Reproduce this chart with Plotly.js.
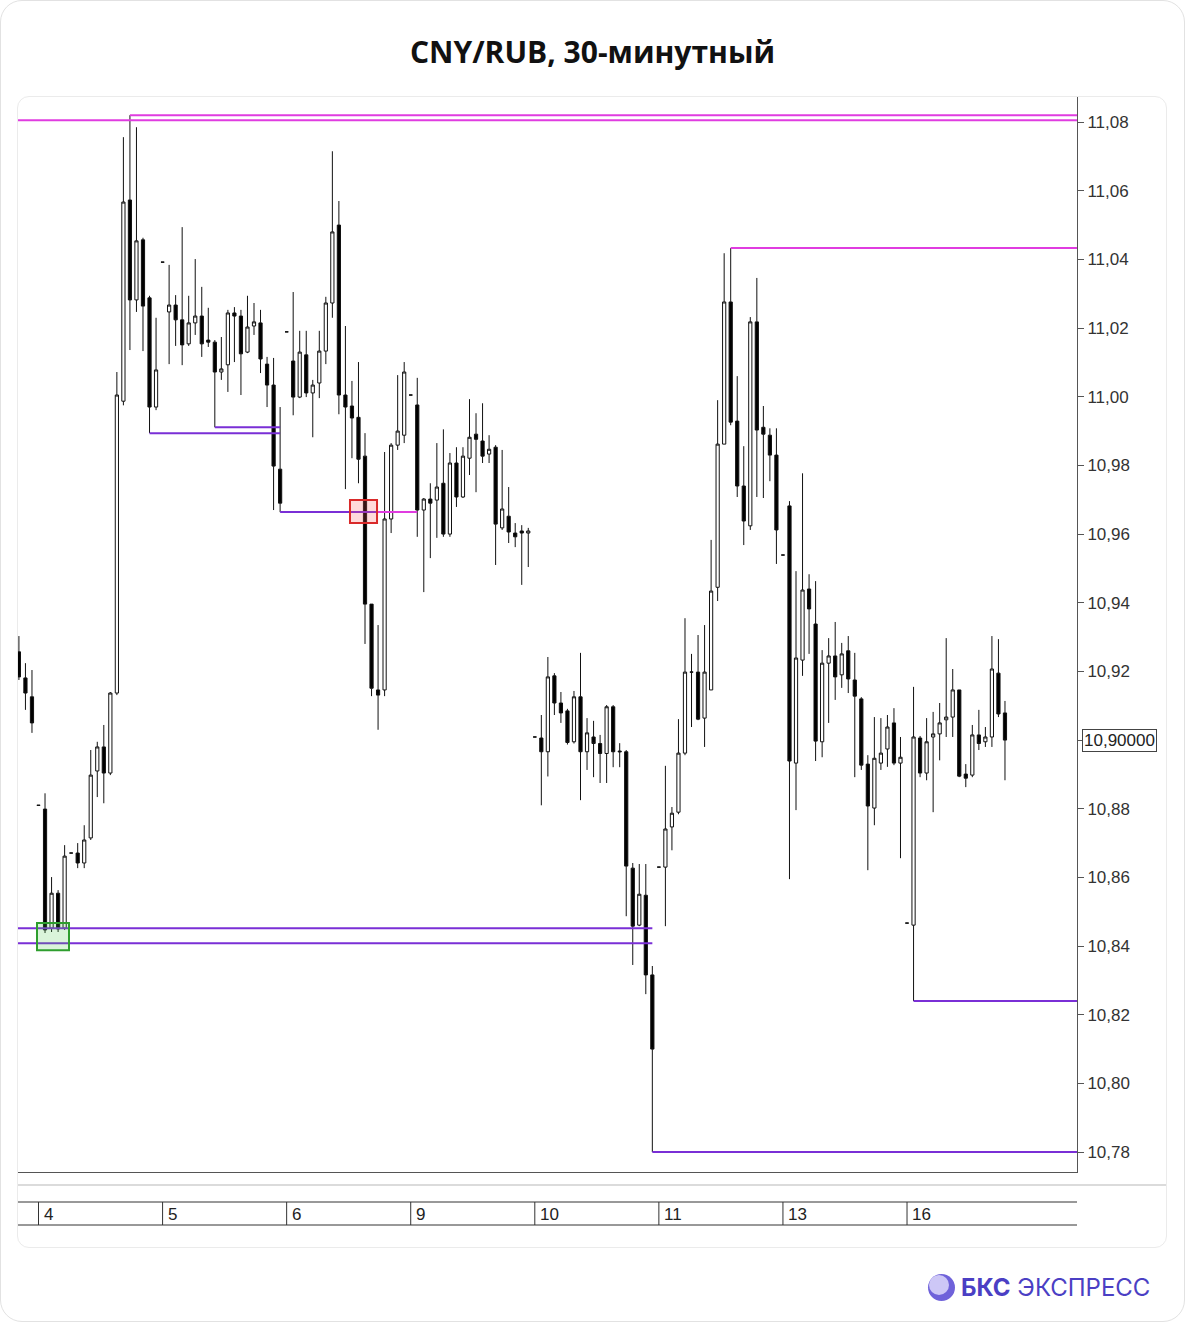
<!DOCTYPE html>
<html><head><meta charset="utf-8">
<script src="https://cdn.plot.ly/plotly-3.0.1.min.js"></script>
<style>
html,body{margin:0;padding:0;background:#fff;}
#frame{position:absolute;left:0;top:0;width:1183px;height:1320px;border:1px solid #e2e2e2;border-radius:22px;}
#card{position:absolute;left:17px;top:96px;width:1148px;height:1150px;border:1px solid #ebebeb;border-radius:12px;}
#chart{position:absolute;left:0;top:0;width:1185px;height:1322px;}
</style></head><body>
<div id="frame"></div><div id="card"></div><div id="chart"></div>
<script>
// ---- data ----
const firstSlot = -3; // slot index of first candle (19 slots per trading day)
const openP = [10.9257,10.9181,10.9126,
10.8810,10.8799,10.8452,10.8554,10.8452,10.8671,10.8671,10.8642,10.8715,10.8910,10.8980,10.8904,10.9137,10.9987,11.0573,11.0282,11.0457,11.0288,10.9970,
11.0392,11.0247,11.0267,11.0224,11.0154,11.0215,11.0235,11.0165,11.0159,11.0072,11.0093,11.0244,11.0235,11.0130,11.0206,11.0215,11.0095,11.0034,10.9789,
11.0189,11.0104,10.9999,11.0122,11.0011,11.0040,11.0133,11.0273,11.0500,11.0005,10.9973,10.9940,10.9827,10.9396,10.9146,10.9146,10.9644,10.9859,10.9888,
11.0005,10.9976,10.9670,10.9702,10.9699,10.9748,10.9600,10.9807,10.9708,10.9821,10.9891,10.9871,10.9833,10.9853,10.9618,10.9652,10.9603,10.9609,10.9603,
10.9009,10.9006,10.8966,10.9187,10.9108,10.9085,10.8995,10.9126,10.8966,10.9009,10.8990,10.8961,10.9097,10.8968,10.8966,10.8627,10.8461,10.8548,10.8316,
10.8630,10.8630,10.8747,10.8790,10.8962,10.9198,10.9198,10.9064,10.9146,10.9445,10.9862,11.0276,10.9929,10.9740,10.9624,11.0218,10.9911,10.9888,10.9830,
10.9539,10.9682,10.8933,10.9233,10.9440,10.9338,10.8995,10.9224,10.9245,10.9190,10.9260,10.9175,10.9120,10.8930,10.8802,10.8933,10.8974,10.9050,10.8933,
10.8467,10.8461,10.9006,10.8904,10.9009,10.9018,10.9059,10.9067,10.9146,10.8901,10.8898,10.9015,10.8995,10.9009,10.9195,10.9079];
const highP = [10.9303,10.9224,10.9204,
10.8810,10.8845,10.8601,10.8563,10.8694,10.8671,10.8700,10.8752,10.8971,10.8995,10.9044,10.9140,11.0072,11.0756,11.0820,11.0785,11.0463,11.0294,11.0230,
11.0392,11.0384,11.0296,11.0494,11.0294,11.0401,11.0320,11.0259,11.0165,11.0174,11.0253,11.0261,11.0253,11.0294,11.0273,11.0253,11.0116,11.0113,10.9970,
11.0189,11.0305,11.0192,11.0192,11.0049,11.0192,11.0291,11.0715,11.0570,11.0206,11.0046,11.0101,10.9894,10.9396,10.9335,10.9839,10.9865,11.0063,11.0101,
11.0005,11.0055,10.9705,10.9748,10.9865,10.9905,10.9836,10.9853,10.9853,10.9993,10.9952,10.9981,10.9888,10.9859,10.9845,10.9737,10.9632,10.9626,10.9618,
10.9009,10.9073,10.9242,10.9195,10.9140,10.9091,10.9143,10.9254,10.9064,10.9056,10.9015,10.9102,10.9102,10.8991,10.8971,10.8642,10.8639,10.8639,10.8342,
10.8630,10.8925,10.8805,10.9061,10.9355,10.9251,10.9306,10.9335,10.9583,10.9990,11.0418,11.0433,11.0060,10.9856,11.0232,11.0346,10.9973,10.9908,10.9908,
10.9539,10.9696,10.9492,10.9777,10.9483,10.9463,10.9262,10.9297,10.9344,10.9283,10.9303,10.9254,10.9125,10.8956,10.9067,10.9064,10.9073,10.9093,10.9009,
10.8467,10.9155,10.9012,10.9064,10.9082,10.9108,10.9297,10.9207,10.9146,10.8930,10.9044,10.9088,10.9038,10.9303,10.9294,10.9114];
const lowP = [10.9175,10.9088,10.9021,
10.8810,10.8438,10.8441,10.8441,10.8447,10.8671,10.8627,10.8627,10.8709,10.8834,10.8816,10.8898,10.9131,10.9975,11.0136,11.0247,11.0133,10.9894,10.9961,
11.0392,11.0095,11.0148,11.0092,11.0148,11.0180,11.0116,11.0145,10.9911,11.0049,11.0014,11.0101,11.0005,11.0127,11.0180,11.0069,10.9970,10.9670,10.9664,
11.0189,10.9946,10.9996,10.9999,10.9882,10.9996,11.0095,11.0230,10.9949,10.9731,10.9821,10.9748,10.9280,10.9128,10.9030,10.9128,10.9603,10.9845,10.9865,
11.0005,10.9592,10.9431,10.9530,10.9589,10.9592,10.9592,10.9679,10.9705,10.9772,10.9722,10.9807,10.9807,10.9510,10.9612,10.9574,10.9562,10.9452,10.9504,
10.9009,10.8810,10.8894,10.9073,10.9050,10.8987,10.8990,10.8825,10.8913,10.8892,10.8875,10.8875,10.8921,10.8921,10.8487,10.8345,10.8458,10.8260,10.7800,
10.8630,10.8458,10.8679,10.8784,10.8956,10.9038,10.9058,10.8980,10.9146,10.9405,10.9862,10.9917,10.9708,10.9568,10.9612,10.9708,10.9705,10.9754,10.9513,
10.9539,10.8595,10.8796,10.9187,10.9251,10.8939,10.8950,10.9050,10.9117,10.9152,10.9137,10.8892,10.8913,10.8621,10.8752,10.8913,10.8922,10.8927,10.8656,
10.8467,10.8240,10.8892,10.8883,10.8790,10.8941,10.9009,10.9009,10.8892,10.8863,10.8892,10.8971,10.8980,10.8980,10.9067,10.8883];
const closeP = [10.9184,10.9137,10.9050,
10.8810,10.8447,10.8554,10.8450,10.8662,10.8671,10.8642,10.8709,10.8898,10.8980,10.8904,10.9137,11.0005,11.0567,11.0282,11.0454,11.0264,10.9970,11.0078,
11.0392,11.0267,11.0224,11.0151,11.0215,11.0235,11.0154,11.0159,11.0072,11.0081,11.0244,11.0235,11.0125,11.0203,11.0218,11.0110,11.0034,10.9798,10.9690,
11.0189,10.9999,11.0130,11.0011,11.0034,11.0133,11.0273,11.0480,11.0005,10.9970,10.9938,10.9818,10.9396,10.9151,10.9131,10.9644,10.9859,10.9900,11.0072,
11.0005,10.9670,10.9702,10.9690,10.9737,10.9600,10.9807,10.9708,10.9827,10.9882,10.9876,10.9827,10.9847,10.9629,10.9673,10.9606,10.9592,10.9603,10.9609,
10.9009,10.8966,10.9184,10.9108,10.9079,10.8993,10.9126,10.8966,10.9021,10.8990,10.8961,10.9097,10.8966,10.8966,10.8633,10.8458,10.8551,10.8316,10.8100,
10.8630,10.8741,10.8787,10.8962,10.9198,10.9198,10.9061,10.9198,10.9434,10.9862,11.0276,10.9926,10.9740,10.9638,11.0218,10.9903,10.9891,10.9830,10.9612,
10.9539,10.8939,10.9239,10.9437,10.9382,10.8997,10.9224,10.9245,10.9184,10.9251,10.9178,10.9128,10.8927,10.8808,10.8947,10.8962,10.9038,10.8933,10.8950,
10.8467,10.9009,10.8904,10.8995,10.9018,10.9050,10.9067,10.9146,10.8895,10.8889,10.9015,10.8990,10.9009,10.9207,10.9076,10.9000];

const dayLabels = ['4','5','6','9','10','11','13','16'];
const dayStartSlot = [0,19,38,57,76,95,114,133];

const yTickVals = [10.78,10.80,10.82,10.84,10.86,10.88,10.90,10.92,10.94,10.96,10.98,11.00,11.02,11.04,11.06,11.08];
const yTickText = ['10,78','10,80','10,82','10,84','10,86','10,88','10,90','10,92','10,94','10,96','10,98','11,00','11,02','11,04','11,06','11,08'];
const lastPrice = 10.90;
const lastPriceText = '10,90000';

// horizontal levels: price, from slot, to slot (null = chart edge), kind
const levelPrice = [11.0805,11.0820,11.0433,10.9894,10.9911,10.9664,10.9664,10.8452,10.8408,10.8240,10.7800];
const levelFrom  = [null,14,106,17,27,37,51.8,null,null,134,94];
const levelTo    = [null,null,null,37,37,51.8,58,94,94,null,null];
const levelKind  = ['res','res','res','sup','sup','sup','res','sup','sup','sup','sup'];

// highlighted zones
const zoneFrom = [47.7,-0.23];
const zoneTo   = [51.84,4.67];
const zoneLow  = [10.9632,10.8388];
const zoneHigh = [10.9699,10.8467];
const zoneKind = ['red','green'];

// ---- build ----
const xRange = [-3.14, 159.03];
const xs = openP.map((_, i) => firstSlot + i);
// the last-price box replaces its own axis label
const shownTickText = yTickText.map((t, i) => Math.abs(yTickVals[i] - lastPrice) < 1e-9 ? '' : t);

const trace = {
  type: 'candlestick', x: xs, open: openP, high: highP, low: lowP, close: closeP,
  increasing: {line: {color: '#111', width: 1}, fillcolor: '#ffffff'},
  decreasing: {line: {color: '#111', width: 1}, fillcolor: '#000000'},
  whiskerwidth: 0, hoverinfo: 'skip', showlegend: false
};

const colors = {res: '#e03ce0', sup: '#7a2fd6'};
const shapes = [];
levelPrice.forEach((p, i) => {
  shapes.push({type: 'line', xref: 'x', yref: 'y',
    x0: levelFrom[i] === null ? xRange[0] : levelFrom[i],
    x1: levelTo[i] === null ? xRange[1] : levelTo[i],
    y0: p, y1: p, line: {color: colors[levelKind[i]], width: 2}, layer: 'above'});
});
const zoneStyle = {red: {line: '#d92a2a', fill: 'rgba(255,90,90,0.22)'}, green: {line: '#2e9e2e', fill: 'rgba(70,200,70,0.2)'}};
zoneFrom.forEach((x0, i) => {
  const st = zoneStyle[zoneKind[i]];
  shapes.push({type: 'rect', xref: 'x', yref: 'y', x0: x0, x1: zoneTo[i], y0: zoneLow[i], y1: zoneHigh[i],
    line: {color: st.line, width: 2}, fillcolor: st.fill, layer: 'above'});
});

// bottom date strip (pixel -> paper helpers)
const L = 18, T = 97, W = 1059, H = 1075;
const py = v => (T + H - v) / H;
const px = v => (v - L) / W;
shapes.push({type: 'line', xref: 'paper', yref: 'paper', x0: 0, x1: px(1166), y0: py(1185), y1: py(1185), line: {color: '#cfcfcf', width: 1.5}});
shapes.push({type: 'line', xref: 'paper', yref: 'paper', x0: 0, x1: 1, y0: py(1202), y1: py(1202), line: {color: '#333', width: 1}});
shapes.push({type: 'line', xref: 'paper', yref: 'paper', x0: 0, x1: 1, y0: py(1225), y1: py(1225), line: {color: '#333', width: 1}});
const annotations = [];
dayStartSlot.forEach((s, i) => {
  shapes.push({type: 'line', xref: 'x', yref: 'paper', x0: s, x1: s, y0: py(1225), y1: py(1202), line: {color: '#333', width: 1}});
  annotations.push({xref: 'x', yref: 'paper', x: s, y: py(1214), xanchor: 'left', yanchor: 'middle', xshift: 3,
    text: dayLabels[i], showarrow: false, font: {family: 'Liberation Sans, Arial', size: 17, color: '#222'}});
});

// last price box
annotations.push({xref: 'paper', yref: 'y', x: 1, y: lastPrice, xanchor: 'left', yanchor: 'middle', xshift: 5,
  text: lastPriceText, showarrow: false, bgcolor: '#ffffff', bordercolor: '#444', borderwidth: 1, borderpad: 1,
  font: {family: 'Liberation Sans, Arial', size: 17, color: '#222'}});

// logo
shapes.push({type: 'circle', xref: 'paper', yref: 'paper', x0: px(928), x1: px(955), y0: py(1301), y1: py(1274), fillcolor: '#6f62da', line: {width: 0}});
shapes.push({type: 'circle', xref: 'paper', yref: 'paper', x0: px(929), x1: px(949), y0: py(1295), y1: py(1275), fillcolor: '#cdc7f6', line: {width: 0}});
annotations.push({xref: 'paper', yref: 'paper', x: px(959), y: py(1287), xanchor: 'left', yanchor: 'middle',
  text: '<b>БКС</b> ЭКСПРЕСС', showarrow: false, font: {family: 'Inter, Roboto, sans-serif', size: 24, color: '#4b3fc4'}});

const layout = {
  width: 1185, height: 1322,
  margin: {l: L, r: 1185 - L - W, t: T, b: 1322 - T - H, pad: 0},
  paper_bgcolor: 'rgba(0,0,0,0)', plot_bgcolor: 'rgba(0,0,0,0)',
  title: {text: '<b>CNY/RUB, 30-минутный</b>', xref: 'container', yref: 'container', x: 0.5, xanchor: 'center',
    y: 1 - 52 / 1322, yanchor: 'middle', font: {family: 'Open Sans, sans-serif', size: 30, color: '#111'}},
  xaxis: {range: xRange, showgrid: false, zeroline: false, showticklabels: false, ticks: '',
    showline: true, linecolor: '#555', linewidth: 1, rangeslider: {visible: false}, fixedrange: true},
  yaxis: {range: [10.7742, 11.0873], side: 'right', showgrid: false, zeroline: false,
    showline: true, linecolor: '#555', linewidth: 1, ticks: 'outside', ticklen: 6, tickcolor: '#555',
    tickvals: yTickVals, ticktext: shownTickText, tickfont: {family: 'Liberation Sans, Arial', size: 17, color: '#333'}, fixedrange: true},
  shapes: shapes, annotations: annotations, showlegend: false
};

Plotly.newPlot('chart', [trace], layout, {displayModeBar: false, staticPlot: true});
</script>
</body></html>
